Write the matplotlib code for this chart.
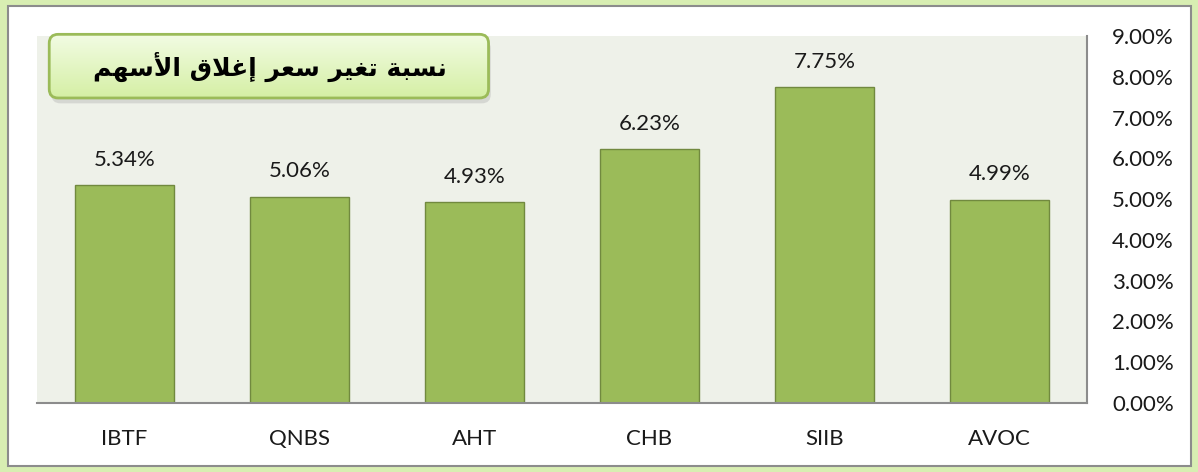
import numpy as np
import matplotlib.pyplot as plt
from matplotlib.patches import FancyBboxPatch, Rectangle
from matplotlib.colors import LinearSegmentedColormap
from matplotlib.ticker import FuncFormatter

# ----------------------------------------------------
# Data
# ----------------------------------------------------
stocks = ["IBTF", "QNBS", "AHT", "CHB", "SIIB", "AVOC"]
change_pct = [5.34, 5.06, 4.93, 6.23, 7.75, 4.99]
y_ticks = [0, 1, 2, 3, 4, 5, 6, 7, 8, 9]

# title "نسبة تغير سعر إغلاق الأسهم" pre-shaped (presentation forms), visual order
title_shaped = ("\uFEE7\uFEB4\uFE92\uFE94 \uFE97\uFED0\uFEF4\uFEAE \uFEB3\uFECC\uFEAE "
                "\uFE87\uFECF\uFEFC\uFED5 \uFE8D\uFEF7\uFEB3\uFEEC\uFEE2")[::-1]

LABEL_FONT = "Lato"
LABEL_SIZE = 16

W, H = 1198, 472
fig = plt.figure(figsize=(W / 100, H / 100), dpi=100)
fig.patch.set_facecolor("#D8EEB2")

# white inner panel with grey border
fig.add_artist(Rectangle((8 / W, 6 / H), (1191 - 8) / W, (466 - 6) / H,
                         transform=fig.transFigure, facecolor="white",
                         edgecolor="#8C8C8C", linewidth=1.5, zorder=-1))

# ----------------------------------------------------
# Bar chart
# ----------------------------------------------------
ax = fig.add_axes([37 / W, 1 - 403 / H, (1087 - 37) / W, (403 - 36) / H])
ax.set_facecolor("#EEF1E9")
x = np.arange(len(stocks))
bars = ax.bar(x, change_pct, width=0.57, color="#9BBB59", edgecolor="#71893F",
              linewidth=1.0, zorder=2)
for xi, v in zip(x, change_pct):
    ax.annotate(f"{v:.2f}%", (xi, v), xytext=(0, 11), textcoords="offset points",
                ha="center", va="bottom", fontsize=LABEL_SIZE, family=LABEL_FONT,
                color="#1A1A1A")

ax.set_xlim(-0.5, len(stocks) - 0.5)
ax.set_ylim(0, 9)
ax.set_xticks(x)
ax.set_xticklabels(stocks, fontsize=LABEL_SIZE, family=LABEL_FONT, color="#1A1A1A")
ax.set_yticks(y_ticks)
ax.yaxis.set_major_formatter(FuncFormatter(lambda v, p: f"{v:.2f}%"))
ax.yaxis.tick_right()
ax.tick_params(axis="y", length=0, pad=18, labelsize=LABEL_SIZE, labelcolor="#1A1A1A")
ax.tick_params(axis="x", length=0, pad=19)
for lbl in ax.get_yticklabels():
    lbl.set_family(LABEL_FONT)
for s in ["top", "left"]:
    ax.spines[s].set_visible(False)
for s in ["right", "bottom"]:
    ax.spines[s].set_color("#8C8C8C")
    ax.spines[s].set_linewidth(1.5)

# ----------------------------------------------------
# Title box
# ----------------------------------------------------
bx, by, bw, bh = 47, 33, 446, 67
tax = fig.add_axes([bx / W, 1 - (by + bh) / H, bw / W, bh / H])
tax.set_xlim(0, 1)
tax.set_ylim(0, 1)
tax.axis("off")
shadow = FancyBboxPatch((0.010, -0.05), 0.985, 0.95,
                        boxstyle="round,pad=0,rounding_size=0.02",
                        mutation_aspect=bw / bh, facecolor="#B8B8B8",
                        edgecolor="none", alpha=0.45, clip_on=False)
tax.add_patch(shadow)
box = FancyBboxPatch((0.005, 0.03), 0.985, 0.95,
                     boxstyle="round,pad=0,rounding_size=0.02",
                     mutation_aspect=bw / bh, facecolor="none",
                     edgecolor="#9BBB59", linewidth=2, clip_on=False, zorder=3)
tax.add_patch(box)
grad = np.linspace(0, 1, 100).reshape(-1, 1)
cmap = LinearSegmentedColormap.from_list("g", ["#F3FCE6", "#D4EFA2"])
img = tax.imshow(grad, extent=[0, 1, 0, 1], aspect="auto", cmap=cmap, zorder=2)
img.set_clip_path(box)
tax.text(0.5, 0.5, title_shaped, ha="center", va="center", fontsize=18,
         fontweight="bold", family="DejaVu Sans", color="black", zorder=4)

fig.savefig("out.png", dpi=100, facecolor=fig.get_facecolor())
